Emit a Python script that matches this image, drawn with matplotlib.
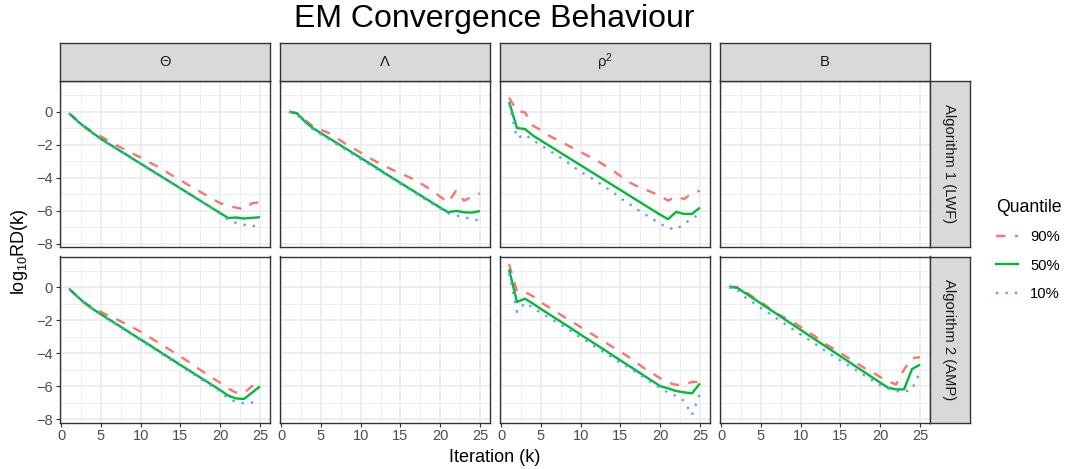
import matplotlib
matplotlib.use("Agg")
import matplotlib.pyplot as plt
from matplotlib.lines import Line2D

plt.rcParams['font.family'] = ['Liberation Sans', 'DejaVu Sans']
plt.rcParams['mathtext.fontset'] = 'custom'
plt.rcParams['mathtext.rm'] = 'Liberation Sans'
plt.rcParams['mathtext.it'] = 'Liberation Sans:italic'

# ---- data (log10 RD per iteration) ----
iterations = list(range(1, 26))
param_labels = ['Θ', 'Λ', 'ρ$^{2}$', 'B']
algo_labels = ['Algorithm 1 (LWF)', 'Algorithm 2 (AMP)']
quantile_labels = ['90%', '50%', '10%']

theta_lwf_q90 = [-0.1, -0.5, -0.9, -1.25, -1.5, -1.78, -2.05, -2.3, -2.55, -2.78, -3.05, -3.3, -3.58,
                 -3.88, -4.15, -4.45, -4.72, -5.0, -5.28, -5.55, -5.72, -5.82, -5.92, -5.55, -5.5]
theta_lwf_q50 = [-0.1, -0.55, -0.95, -1.3, -1.65, -1.95, -2.25, -2.55, -2.85, -3.15, -3.45, -3.75, -4.05,
                 -4.35, -4.65, -4.95, -5.25, -5.55, -5.85, -6.15, -6.45, -6.42, -6.48, -6.44, -6.4]
theta_lwf_q10 = [-0.1, -0.55, -0.95, -1.32, -1.68, -1.98, -2.28, -2.58, -2.88, -3.18, -3.48, -3.78, -4.08,
                 -4.38, -4.68, -4.98, -5.28, -5.58, -5.88, -6.2, -6.55, -6.75, -6.85, -6.95, -6.88]

lambda_lwf_q90 = [0.0, -0.1, -0.5, -0.88, -1.1, -1.3, -1.6, -1.92, -2.2, -2.48, -2.77, -3.05, -3.3,
                  -3.52, -3.75, -3.95, -4.2, -4.48, -4.8, -5.15, -5.5, -4.8, -5.4, -5.15, -4.95]
lambda_lwf_q50 = [0.0, -0.1, -0.6, -1.0, -1.3, -1.6, -1.9, -2.2, -2.5, -2.8, -3.1, -3.4, -3.72,
                  -4.02, -4.32, -4.62, -4.92, -5.22, -5.52, -5.82, -6.1, -6.02, -6.1, -6.12, -6.03]
lambda_lwf_q10 = [0.0, -0.2, -0.65, -1.07, -1.38, -1.68, -1.98, -2.28, -2.58, -2.88, -3.18, -3.48, -3.78,
                  -4.08, -4.38, -4.68, -4.98, -5.28, -5.58, -5.88, -6.16, -6.3, -6.4, -6.52, -6.6]

rho_lwf_q90 = [0.85, 0.05, -0.05, -0.85, -1.12, -1.45, -1.7, -1.95, -2.2, -2.45, -2.7, -2.95, -3.25,
               -3.55, -3.9, -4.25, -4.5, -4.7, -4.9, -5.1, -5.4, -5.15, -5.3, -4.95, -4.8]
rho_lwf_q50 = [0.6, -1.0, -1.05, -1.45, -1.75, -2.05, -2.35, -2.65, -2.95, -3.25, -3.55, -3.85, -4.15,
               -4.45, -4.75, -5.05, -5.35, -5.65, -5.95, -6.25, -6.52, -6.08, -6.2, -6.2, -5.82]
rho_lwf_q10 = [0.5, -1.6, -1.4, -1.72, -2.05, -2.33, -2.65, -2.95, -3.3, -3.65, -3.92, -4.22, -4.55,
               -4.85, -5.25, -5.55, -5.9, -6.2, -6.5, -6.8, -7.05, -7.15, -6.8, -6.48, -6.2]

theta_amp_q90 = [-0.1, -0.55, -0.95, -1.25, -1.5, -1.75, -1.95, -2.2, -2.45, -2.7, -3.0, -3.3, -3.6,
                 -3.9, -4.2, -4.52, -4.85, -5.18, -5.5, -5.8, -6.15, -6.4, -6.42, -6.0, -5.92]
theta_amp_q50 = [-0.1, -0.55, -0.98, -1.33, -1.64, -1.95, -2.25, -2.56, -2.87, -3.17, -3.48, -3.79, -4.1,
                 -4.41, -4.72, -5.02, -5.33, -5.63, -5.94, -6.24, -6.58, -6.75, -6.78, -6.4, -6.02]
theta_amp_q10 = [-0.1, -0.58, -1.0, -1.36, -1.68, -1.99, -2.3, -2.61, -2.92, -3.23, -3.54, -3.85, -4.16,
                 -4.47, -4.78, -5.09, -5.4, -5.71, -6.02, -6.33, -6.75, -6.95, -7.05, -7.0, -6.85]

rho_amp_q90 = [1.4, -0.25, -0.3, -0.55, -0.92, -1.22, -1.52, -1.83, -2.12, -2.42, -2.72, -3.02, -3.32,
               -3.62, -3.92, -4.22, -4.57, -4.92, -5.22, -5.52, -5.8, -5.92, -5.92, -5.75, -5.75]
rho_amp_q50 = [1.07, -0.9, -0.7, -1.0, -1.32, -1.63, -1.94, -2.25, -2.56, -2.88, -3.19, -3.5, -3.81,
               -4.13, -4.44, -4.75, -5.06, -5.38, -5.69, -6.0, -6.14, -6.3, -6.38, -6.44, -5.84]
rho_amp_q10 = [0.85, -1.5, -0.95, -1.25, -1.55, -1.85, -2.14, -2.42, -2.73, -3.05, -3.36, -3.67, -3.97,
               -4.27, -4.6, -4.85, -5.17, -5.48, -5.8, -6.12, -6.4, -6.6, -6.9, -7.75, -6.45]

b_amp_q90 = [0.05, 0.0, -0.25, -0.6, -0.9, -1.25, -1.6, -1.85, -2.1, -2.4, -2.72, -3.05, -3.4,
             -3.7, -4.0, -4.3, -4.6, -4.9, -5.15, -5.45, -5.7, -5.9, -5.0, -4.3, -4.25]
b_amp_q50 = [0.0, -0.03, -0.35, -0.67, -0.99, -1.31, -1.63, -1.95, -2.27, -2.59, -2.91, -3.23, -3.55,
             -3.87, -4.19, -4.51, -4.83, -5.15, -5.47, -5.79, -6.1, -6.2, -6.2, -4.97, -4.7]
b_amp_q10 = [0.0, -0.12, -0.6, -0.93, -1.27, -1.58, -1.9, -2.22, -2.55, -2.87, -3.18, -3.5, -3.83,
             -4.14, -4.45, -4.75, -5.05, -5.35, -5.65, -5.95, -6.15, -6.3, -6.35, -6.2, -5.15]

# (row, col) -> quantile series; empty panels are left out
panels = {
    (0, 0): [theta_lwf_q90, theta_lwf_q50, theta_lwf_q10],
    (0, 1): [lambda_lwf_q90, lambda_lwf_q50, lambda_lwf_q10],
    (0, 2): [rho_lwf_q90, rho_lwf_q50, rho_lwf_q10],
    (1, 0): [theta_amp_q90, theta_amp_q50, theta_amp_q10],
    (1, 2): [rho_amp_q90, rho_amp_q50, rho_amp_q10],
    (1, 3): [b_amp_q90, b_amp_q50, b_amp_q10],
}

colors = ['#F8766D', '#00BA38', '#619CFF']
dashes = [(4, 4), None, (1, 3)]
lw = 1.7

# shared scales, ggplot-style 5% expansion
all_vals = [v for series in panels.values() for s in series for v in s]
ymin, ymax = min(all_vals), max(all_vals)
yr = ymax - ymin
ylim = (ymin - 0.05 * yr, ymax + 0.05 * yr)
xr = max(iterations) - min(iterations)
xlim = (min(iterations) - 0.05 * xr, max(iterations) + 0.05 * xr)

W, H = 1068, 469
fig = plt.figure(figsize=(W / 100, H / 100), dpi=100)

def box(x0, y0, w, h):
    return [x0 / W, 1 - (y0 + h) / H, w / W, h / H]

col_x = [59.5, 279.5, 499.5, 719.5]
row_y = [81, 256.5]
pw, ph = 210, 166
border = '#333333'

for r in range(2):
    for c in range(4):
        ax = fig.add_axes(box(col_x[c], row_y[r], pw, ph))
        ax.set_xlim(xlim)
        ax.set_ylim(ylim)
        ax.set_xticks([0, 5, 10, 15, 20, 25])
        ax.set_xticks([2.5, 7.5, 12.5, 17.5, 22.5], minor=True)
        ax.set_yticks([-8, -6, -4, -2, 0])
        ax.set_yticklabels(['\u22128', '\u22126', '\u22124', '\u22122', '0'])
        ax.set_yticks([-7, -5, -3, -1, 1], minor=True)
        ax.grid(True, which='major', color='#EBEBEB', linewidth=1.2)
        ax.grid(True, which='minor', color='#EBEBEB', linewidth=0.6)
        ax.set_axisbelow(True)
        for sp in ax.spines.values():
            sp.set_color(border)
            sp.set_linewidth(1.0)
        ax.tick_params(which='minor', length=0)
        ax.tick_params(which='major', color=border, length=2.75, width=0.8,
                       labelcolor='#4D4D4D', labelsize=10.5, pad=2)
        if c != 0:
            ax.tick_params(axis='y', which='major', length=0, labelleft=False)
        if r != 1:
            ax.tick_params(axis='x', which='major', length=0, labelbottom=False)

        if (r, c) in panels:
            for q, series in enumerate(panels[(r, c)]):
                ln, = ax.plot(iterations, series, color=colors[q], linewidth=lw,
                              solid_capstyle='butt', dash_capstyle='butt')
                if dashes[q] is not None:
                    ln.set_dashes(dashes[q])

        # top strips
        if r == 0:
            sax = fig.add_axes(box(col_x[c], 43, pw, 38))
            sax.set_facecolor('#D9D9D9')
            sax.set_xticks([])
            sax.set_yticks([])
            for sp in sax.spines.values():
                sp.set_color(border)
                sp.set_linewidth(1.0)
            sax.text(0.5, 0.5, param_labels[c], ha='center', va='center',
                     fontsize=10.6, color='#1A1A1A', transform=sax.transAxes)

    # right strips
    sax = fig.add_axes(box(929.5, row_y[r], 40, ph))
    sax.set_facecolor('#D9D9D9')
    sax.set_xticks([])
    sax.set_yticks([])
    for sp in sax.spines.values():
        sp.set_color(border)
        sp.set_linewidth(1.0)
    sax.text(0.5, 0.5, algo_labels[r], ha='center', va='center', rotation=-90,
             fontsize=10.6, color='#1A1A1A', transform=sax.transAxes)

fig.text(494.5 / W, 1 - 19 / H, 'EM Convergence Behaviour', ha='center', va='center',
         fontsize=23, color='black')
fig.text(494.5 / W, 1 - 457 / H, 'Iteration (k)', ha='center', va='center',
         fontsize=13, color='black')
fig.text(19 / W, 1 - 251.75 / H, 'log$_{10}$RD(k)', ha='center', va='center',
         rotation=90, fontsize=13, color='black')

handles = []
for q in range(3):
    h = Line2D([0], [0], color=colors[q], linewidth=lw, dash_capstyle='butt')
    if dashes[q] is not None:
        h.set_dashes(dashes[q])
    handles.append(h)
fig.legend(handles, quantile_labels, title='Quantile', loc='upper left',
           bbox_to_anchor=(996 / W, 1 - 199 / H), frameon=False, fontsize=10.6,
           title_fontsize=12.7, handlelength=1.52, handletextpad=0.79,
           labelspacing=0.97, alignment='left', borderpad=0, borderaxespad=0)

fig.savefig('out.png', dpi=100)
